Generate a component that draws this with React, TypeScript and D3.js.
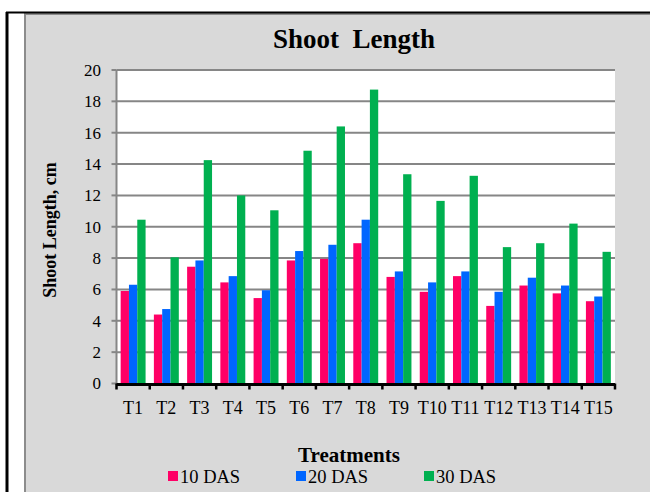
import React, { useEffect, useRef } from 'react'
import * as d3 from 'd3'

const treatments = ['T1', 'T2', 'T3', 'T4', 'T5', 'T6', 'T7', 'T8', 'T9', 'T10', 'T11', 'T12', 'T13', 'T14', 'T15']
const das10 = [5.9, 4.4, 7.45, 6.45, 5.45, 7.85, 7.95, 8.95, 6.8, 5.85, 6.85, 4.95, 6.25, 5.75, 5.25]
const das20 = [6.3, 4.75, 7.85, 6.85, 5.95, 8.45, 8.85, 10.45, 7.15, 6.45, 7.15, 5.85, 6.75, 6.25, 5.55]
const das30 = [10.45, 8.05, 14.25, 12.0, 11.05, 14.85, 16.4, 18.75, 13.35, 11.65, 13.25, 8.7, 8.95, 10.2, 8.4]
const seriesNames = ['10 DAS', '20 DAS', '30 DAS']
const yTicks = [0, 2, 4, 6, 8, 10, 12, 14, 16, 18, 20]

const colors = ['#ff0066', '#0066ff', '#00b050']
const font = '"Liberation Serif", "Times New Roman", serif'

export default function App() {
  const svgRef = useRef<SVGSVGElement>(null)

  useEffect(() => {
    if (!svgRef.current) return
    const svg = d3.select(svgRef.current)
    svg.selectAll('*').remove()

    // frame
    svg.append('rect').attr('width', 650).attr('height', 492).attr('fill', '#fff')
    svg.append('rect')
      .attr('x', 25).attr('y', 14).attr('width', 640).attr('height', 490)
      .attr('fill', '#d9d9d9').attr('stroke', '#8c8c8c').attr('stroke-width', 2)
    svg.append('line').attr('x1', 6).attr('x2', 650).attr('y1', 12.5).attr('y2', 12.5)
      .attr('stroke', '#000').attr('stroke-width', 2)
    svg.append('line').attr('x1', 7).attr('x2', 7).attr('y1', 12).attr('y2', 492)
      .attr('stroke', '#000').attr('stroke-width', 3)

    const margin = { top: 70, left: 116.5, right: 615, bottom: 383.5 }

    const x0 = d3.scaleBand<string>()
      .domain(treatments)
      .range([margin.left, margin.right])
      .paddingInner(0.25)
      .paddingOuter(0.125)
    const x1 = d3.scaleBand<string>()
      .domain(seriesNames)
      .range([0, x0.bandwidth()])
    const y = d3.scaleLinear().domain([0, 20]).range([margin.bottom, margin.top])

    // plot background
    svg.append('rect')
      .attr('x', margin.left).attr('y', margin.top)
      .attr('width', margin.right - margin.left).attr('height', margin.bottom - margin.top)
      .attr('fill', '#fff')

    // grid lines
    svg.selectAll('.grid')
      .data(yTicks.filter(d => d > 0))
      .enter()
      .append('line')
      .attr('x1', margin.left).attr('x2', margin.right)
      .attr('y1', d => y(d)).attr('y2', d => y(d))
      .attr('stroke', '#868686').attr('stroke-width', 2)

    // y axis
    svg.append('line')
      .attr('x1', margin.left).attr('x2', margin.left)
      .attr('y1', margin.top).attr('y2', margin.bottom)
      .attr('stroke', '#868686').attr('stroke-width', 2)
    svg.selectAll('.ytick')
      .data(yTicks)
      .enter()
      .append('line')
      .attr('x1', margin.left - 5).attr('x2', margin.left)
      .attr('y1', d => y(d)).attr('y2', d => y(d))
      .attr('stroke', '#868686').attr('stroke-width', 2)
    svg.selectAll('.ylabel')
      .data(yTicks)
      .enter()
      .append('text')
      .attr('x', 101).attr('y', d => y(d))
      .attr('dy', '0.35em')
      .attr('text-anchor', 'end')
      .style('font-family', font).style('font-size', '17px')
      .attr('fill', '#000')
      .text(d => d)

    // bars
    const data = [das10, das20, das30]
    data.forEach((vals, si) => {
      svg.selectAll(`.bar-${si}`)
        .data(treatments)
        .enter()
        .append('rect')
        .attr('x', t => (x0(t) as number) + (x1(seriesNames[si]) as number))
        .attr('width', x1.bandwidth())
        .attr('y', (t, i) => y(vals[i]))
        .attr('height', (t, i) => y(0) - y(vals[i]))
        .attr('fill', colors[si])
    })

    // x axis
    svg.append('line')
      .attr('x1', margin.left).attr('x2', margin.right)
      .attr('y1', y(0) + 1).attr('y2', y(0) + 1)
      .attr('stroke', '#000').attr('stroke-width', 3)
    const step = x0.step()
    svg.selectAll('.xtick')
      .data(d3.range(treatments.length + 1))
      .enter()
      .append('line')
      .attr('x1', i => margin.left + i * step).attr('x2', i => margin.left + i * step)
      .attr('y1', y(0)).attr('y2', y(0) + 6)
      .attr('stroke', '#000').attr('stroke-width', 2.5)
    svg.selectAll('.xlabel')
      .data(treatments)
      .enter()
      .append('text')
      .attr('x', t => (x0(t) as number) + x0.bandwidth() / 2)
      .attr('y', 414)
      .attr('text-anchor', 'middle')
      .style('font-family', font).style('font-size', '18px')
      .attr('fill', '#000')
      .text(t => t)

    // titles
    svg.append('text')
      .attr('x', 354).attr('y', 48)
      .attr('text-anchor', 'middle')
      .style('font-family', font).style('font-size', '27px').style('font-weight', 'bold')
      .style('white-space', 'pre')
      .text('Shoot  Length')
    svg.append('text')
      .attr('transform', 'rotate(-90)')
      .attr('x', -230).attr('y', 56)
      .attr('text-anchor', 'middle')
      .style('font-family', font).style('font-size', '18px').style('font-weight', 'bold')
      .text('Shoot Length, cm')
    svg.append('text')
      .attr('x', 349).attr('y', 462)
      .attr('text-anchor', 'middle')
      .style('font-family', font).style('font-size', '21px').style('font-weight', 'bold')
      .text('Treatments')

    // legend
    const legendX = [168, 296, 424]
    seriesNames.forEach((name, i) => {
      svg.append('rect')
        .attr('x', legendX[i]).attr('y', 471).attr('width', 10).attr('height', 10)
        .attr('fill', colors[i])
      svg.append('text')
        .attr('x', legendX[i] + 12).attr('y', 483)
        .style('font-family', font).style('font-size', '18.5px')
        .text(name)
    })
  }, [])

  return (
    <svg
      ref={svgRef}
      width={650}
      height={492}
      style={{ position: 'absolute', left: 0, top: 0 }}
    />
  )
}
